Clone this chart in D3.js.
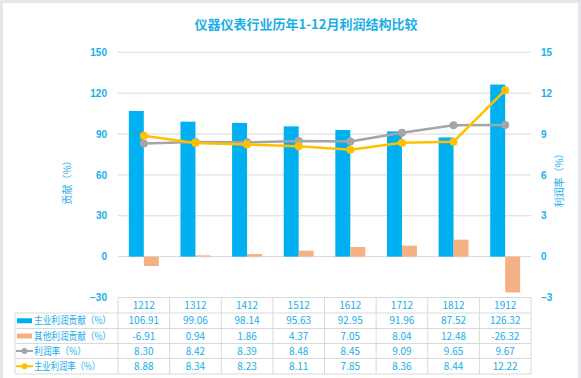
<!DOCTYPE html>
<html><head><meta charset="utf-8">
<script src="https://cdn.jsdelivr.net/npm/d3@7/dist/d3.min.js"></script>
<style>
html,body{margin:0;padding:0;background:#e6e6ea;}
svg{display:block;font-family:"Noto Sans CJK SC","Noto Sans",sans-serif;}
</style></head>
<body><svg id="c" width="581" height="378"></svg>
<script>
const categories = ["1212","1312","1412","1512","1612","1712","1812","1912"];
const mainContrib = [106.91,99.06,98.14,95.63,92.95,91.96,87.52,126.32];
const otherContrib = [-6.91,0.94,1.86,4.37,7.05,8.04,12.48,-26.32];
const profitRate = [8.30,8.42,8.39,8.48,8.45,9.09,9.65,9.67];
const mainProfitRate = [8.88,8.34,8.23,8.11,7.85,8.36,8.44,12.22];
const leftTicks = [-30,0,30,60,90,120,150];
const rightTicks = [-3,0,3,6,9,12,15];
const seriesNames = ["主业利润贡献（%）","其他利润贡献（%）","利润率（%）","主业利润率（%）"];
const title = "仪器仪表行业历年1-12月利润结构比较";

const C = {blue:"#00B0F0", orange:"#F4B183", gray:"#A5A5A5", yellow:"#FFC000", text:"#1AAEE8", grid:"#D9D9D9"};
const svg = d3.select("#c");
svg.append("rect").attr("x",3).attr("y",3).attr("width",575).attr("height",380).attr("fill","#fff");

const L = 118, R = 531, T = 52.3, B = 297.5;
const x = d3.scaleBand().domain(categories).range([L,R]);
const yL = d3.scaleLinear().domain([-30,150]).range([B,T]);
const yR = d3.scaleLinear().domain([-3,15]).range([B,T]);

svg.append("text").attr("x",306).attr("y",29).attr("text-anchor","middle")
  .attr("font-size",13).attr("font-weight","bold").attr("fill",C.text).text(title);

// grid
svg.append("g").selectAll("line").data(leftTicks).join("line")
  .attr("x1",L).attr("x2",R).attr("y1",d=>yL(d)).attr("y2",d=>yL(d))
  .attr("stroke",C.grid).attr("stroke-width",1);

// axes
const ga = svg.append("g").attr("transform",`translate(${L-11},0)`)
  .call(d3.axisLeft(yL).tickValues(leftTicks).tickSize(0).tickPadding(0));
ga.select(".domain").remove();
ga.selectAll("text").attr("fill",C.text).attr("font-size",10).attr("font-weight","bold");
const gb = svg.append("g").attr("transform",`translate(${R+10},0)`)
  .call(d3.axisRight(yR).tickValues(rightTicks).tickSize(0).tickPadding(0));
gb.select(".domain").remove();
gb.selectAll("text").attr("fill",C.text).attr("font-size",10).attr("font-weight","bold");

svg.append("text").attr("transform",`translate(71,180) rotate(-90)`).attr("text-anchor","middle")
  .attr("font-size",10).attr("fill",C.text).text("贡献（%）");
svg.append("text").attr("transform",`translate(563,178) rotate(-90)`).attr("text-anchor","middle")
  .attr("font-size",10).attr("fill",C.text).text("利润率（%）");

const bw = x.bandwidth()*0.29;
const cx = d => x(d)+x.bandwidth()/2;
svg.append("g").selectAll("rect").data(categories).join("rect")
  .attr("x",d=>cx(d)-bw).attr("width",bw)
  .attr("y",(d,i)=>yL(Math.max(0,mainContrib[i]))).attr("height",(d,i)=>Math.abs(yL(mainContrib[i])-yL(0)))
  .attr("fill",C.blue);
svg.append("g").selectAll("rect").data(categories).join("rect")
  .attr("x",d=>cx(d)).attr("width",bw)
  .attr("y",(d,i)=>yL(Math.max(0,otherContrib[i]))).attr("height",(d,i)=>Math.abs(yL(otherContrib[i])-yL(0)))
  .attr("fill",C.orange);

function drawLine(vals,color){
  const line = d3.line().x((d,i)=>cx(categories[i])).y(d=>yR(d));
  svg.append("path").datum(vals).attr("d",line).attr("fill","none").attr("stroke",color).attr("stroke-width",2.5);
  svg.append("g").selectAll("circle").data(vals).join("circle")
    .attr("cx",(d,i)=>cx(categories[i])).attr("cy",d=>yR(d)).attr("r",4).attr("fill",color);
}
drawLine(profitRate,C.gray);
drawLine(mainProfitRate,C.yellow);

// table
const rowY = [297.5,313,328.5,343.5,358.5,374];
const tLeft = 15;
const tg = svg.append("g");
const hl = (x1,x2,y)=>tg.append("line").attr("x1",x1).attr("x2",x2).attr("y1",y).attr("y2",y).attr("stroke",C.grid);
const vl = (xx,y1,y2)=>tg.append("line").attr("x1",xx).attr("x2",xx).attr("y1",y1).attr("y2",y2).attr("stroke",C.grid);
hl(L,R,rowY[0]);
for(let k=1;k<rowY.length;k++) hl(tLeft,R,rowY[k]);
vl(tLeft,rowY[1],rowY[5]);
categories.forEach(c=>vl(x(c),rowY[0],rowY[5]));
vl(R,rowY[0],rowY[5]);

tg.selectAll("text.h").data(categories).join("text").attr("class","h")
  .attr("x",d=>cx(d)).attr("y",(rowY[0]+rowY[1])/2+3.5).attr("text-anchor","middle")
  .attr("font-size",10).attr("fill",C.text).text(d=>d);
const rows = [mainContrib,otherContrib,profitRate,mainProfitRate];
const legendW = [77,77,52,66];
rows.forEach((vals,r)=>{
  const yc = (rowY[r+1]+rowY[r+2])/2;
  tg.append("g").selectAll("text").data(vals).join("text")
    .attr("x",(d,i)=>cx(categories[i])).attr("y",yc+3.5).attr("text-anchor","middle")
    .attr("font-size",10).attr("fill",C.text).text(d=>d.toFixed(2));
  const lg = tg.append("g");
  if(r<2){
    lg.append("rect").attr("x",17).attr("y",yc-2.5).attr("width",15).attr("height",5).attr("fill",r==0?C.blue:C.orange);
  } else {
    const col = r==2?C.gray:C.yellow;
    lg.append("line").attr("x1",16).attr("x2",33).attr("y1",yc).attr("y2",yc).attr("stroke",col).attr("stroke-width",2);
    lg.append("circle").attr("cx",24.5).attr("cy",yc).attr("r",3).attr("fill",col);
  }
  lg.append("text").attr("x",34).attr("y",yc+3.5).attr("font-size",10).attr("fill",C.text)
    .attr("textLength",legendW[r]).attr("lengthAdjust","spacingAndGlyphs").text(seriesNames[r]);
});
</script></body></html>
